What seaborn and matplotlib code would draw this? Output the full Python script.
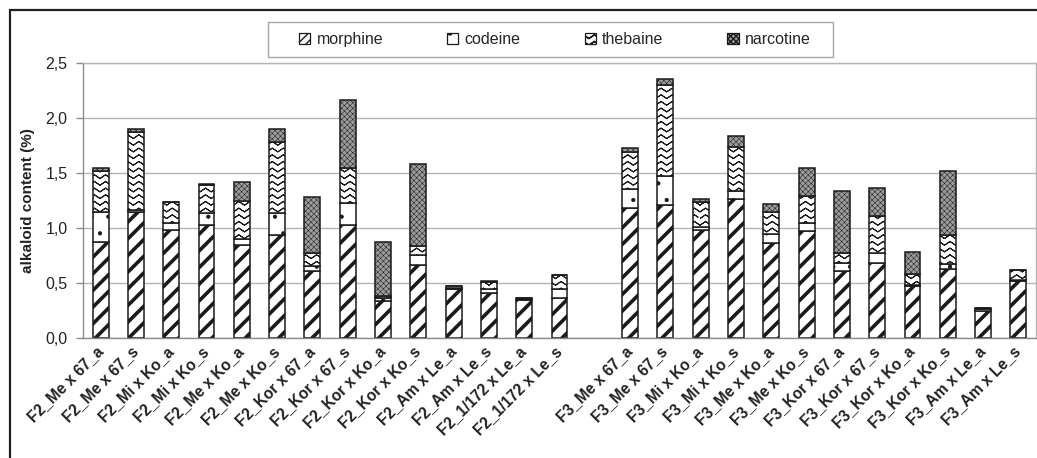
import warnings
import numpy as np
import pandas as pd
import seaborn as sns
import matplotlib.pyplot as plt
import matplotlib.hatch as mhatch
import matplotlib.patches as mpatches
import matplotlib.transforms as mtransforms
from matplotlib.path import Path

warnings.filterwarnings('ignore')

# ==========================================
# Dados
# ==========================================
amostras = ['F2_Me x 67_a', 'F2_Me x 67_s', 'F2_Mi x Ko_a', 'F2_Mi x Ko_s', 'F2_Me x Ko_a',
            'F2_Me x Ko_s', 'F2_Kor x 67_a', 'F2_Kor x 67_s', 'F2_Kor x Ko_a', 'F2_Kor x Ko_s',
            'F2_Am x Le_a', 'F2_Am x Le_s', 'F2_1/172 x Le_a', 'F2_1/172 x Le_s', '',
            'F3_Me x 67_a', 'F3_Me x 67_s', 'F3_Mi x Ko_a', 'F3_Mi x Ko_s', 'F3_Me x Ko_a',
            'F3_Me x Ko_s', 'F3_Kor x 67_a', 'F3_Kor x 67_s', 'F3_Kor x Ko_a', 'F3_Kor x Ko_s',
            'F3_Am x Le_a', 'F3_Am x Le_s']
morphine = [0.875, 1.15, 0.98, 1.025, 0.85, 0.935, 0.61, 1.025, 0.34, 0.665, 0.445, 0.41, 0.35, 0.36, 0,
            1.185, 1.205, 0.985, 1.265, 0.865, 0.975, 0.605, 0.685, 0.47, 0.625, 0.25, 0.52]
codeine = [0.27, 0.015, 0.065, 0.11, 0.05, 0.2, 0.045, 0.2, 0.025, 0.09, 0.01, 0.035, 0.005, 0.085, 0,
           0.17, 0.265, 0.025, 0.07, 0.085, 0.07, 0.08, 0.09, 0.015, 0.05, 0.015, 0.01]
thebaine = [0.37, 0.705, 0.19, 0.26, 0.345, 0.65, 0.12, 0.32, 0.02, 0.085, 0.015, 0.06, 0.005, 0.125, 0,
            0.34, 0.83, 0.225, 0.405, 0.195, 0.25, 0.09, 0.335, 0.095, 0.26, 0.01, 0.09]
narcotine = [0.03, 0.03, 0.005, 0.005, 0.175, 0.115, 0.505, 0.62, 0.49, 0.74, 0.005, 0.01, 0, 0, 0,
             0.03, 0.055, 0.025, 0.1, 0.075, 0.255, 0.56, 0.25, 0.2, 0.585, 0, 0]
componentes = ['morphine', 'codeine', 'thebaine', 'narcotine']
y_ticks = [0, 0.5, 1.0, 1.5, 2.0, 2.5]
y_ticklabels = ['0,0', '0,5', '1,0', '1,5', '2,0', '2,5']
gap_idx = amostras.index('')

df = pd.DataFrame({'amostra': amostras, 'morphine': morphine, 'codeine': codeine,
                   'thebaine': thebaine, 'narcotine': narcotine})


# hachura em zigue-zague (thebaine): ida e volta para o preenchimento ter área nula
class ZigueZague(mhatch.HatchPatternBase):
    def __init__(self, hatch, density):
        self.num_lines = int(hatch.count('~') * density * 2.5)
        self.dentes = 9
        self.n = 2 * self.dentes + 1
        self.num_vertices = self.num_lines * (2 * self.n - 1)

    def set_vertices_and_codes(self, vertices, codes):
        n = self.n
        m = 2 * n - 1
        xs = np.linspace(0, 1, n)
        amp = 0.28 / max(self.num_lines, 1)
        for i in range(self.num_lines):
            y0 = (i + 0.5) / self.num_lines
            ys = y0 + np.where(np.arange(n) % 2 == 0, -amp, amp)
            vx = np.concatenate([xs, xs[-2::-1]])
            vy = np.concatenate([ys, ys[-2::-1]])
            vertices[i * m:(i + 1) * m, 0] = vx
            vertices[i * m:(i + 1) * m, 1] = vy
            codes[i * m] = Path.MOVETO
            codes[i * m + 1:(i + 1) * m] = Path.LINETO


mhatch._hatch_types.append(ZigueZague)

estilos = {
    'morphine': dict(facecolor='white', hatch='//', hlw=2.6),
    'codeine': dict(facecolor='white', hatch='.', hlw=0.6),
    'thebaine': dict(facecolor='white', hatch='~', hlw=0.75),
    'narcotine': dict(facecolor='#9c9c9c', hatch='xxxxxx', hlw=0.35),
}

# ==========================================
# Gráfico
# ==========================================
sns.set_theme(style='white')
plt.rcParams['font.family'] = ['Liberation Sans', 'DejaVu Sans']
plt.rcParams['hatch.linewidth'] = 1.0

fig = plt.figure(figsize=(10.37, 4.58), dpi=100)
ax = fig.add_axes([83 / 1037, 1 - 338 / 458, 953 / 1037, 275 / 458])

base = np.zeros(len(amostras))
handles = []
for comp in componentes:
    est = estilos[comp]
    with plt.rc_context({'hatch.linewidth': est['hlw']}):
        sns.barplot(data=df, x='amostra', y=comp, bottom=base, width=0.45, saturation=1,
                    errorbar=None, color=est['facecolor'], facecolor=est['facecolor'],
                    edgecolor='#1a1a1a', linewidth=1.1, hatch=est['hatch'], ax=ax)
        cont = ax.containers[-1]
        for p in cont.patches:
            if hasattr(p, 'set_hatch_linewidth'):
                p.set_hatch_linewidth(est['hlw'])
        cont.patches[gap_idx].set_visible(False)
        h = mpatches.Patch(facecolor=est['facecolor'], edgecolor='#1a1a1a', linewidth=0.9,
                           hatch=est['hatch'] * (2 if comp == 'morphine' else 1), label=comp)
        if hasattr(h, 'set_hatch_linewidth'):
            h.set_hatch_linewidth(est['hlw'])
        handles.append(h)
    base = base + df[comp].to_numpy()

ax.set_xlim(-0.5, len(amostras) - 0.5)
ax.set_ylim(0, 2.5)
ax.set_yticks(y_ticks)
ax.set_yticklabels(y_ticklabels, fontsize=11.5, color='#222222')
ax.set_xticks(range(len(amostras)))
ax.set_xticklabels(amostras, rotation=45, ha='right', va='center', rotation_mode='anchor',
                   fontsize=11.2, fontweight='bold', color='#222222')
desloc = mtransforms.ScaledTranslation(-6 / 100, 0, fig.dpi_scale_trans)
for lab in ax.get_xticklabels():
    lab.set_transform(lab.get_transform() + desloc)
ax.set_xticks(np.arange(-0.5, len(amostras)), minor=True)
ax.tick_params(axis='x', which='major', length=0, pad=8)
ax.tick_params(axis='x', which='minor', length=5, width=1, color='#8c8c8c', direction='out')
ax.tick_params(axis='y', length=5, width=1, color='#8c8c8c', direction='out', pad=6, left=True)
ax.set_xlabel('')
ax.set_ylabel('alkaloid content (%)', fontsize=11, fontweight='bold', color='#222222')
ax.yaxis.set_label_coords(-0.05, 0.5)

ax.yaxis.grid(True, color='#b5b5b5', linewidth=1)
ax.set_axisbelow(True)
for lado in ['top', 'right']:
    ax.spines[lado].set_color('#b5b5b5')
for lado in ['left', 'bottom']:
    ax.spines[lado].set_color('#8c8c8c')
for s in ax.spines.values():
    s.set_linewidth(1)

# legenda com caixa própria
fig.add_artist(mpatches.Rectangle((268 / 1037, 1 - 57 / 458), 565 / 1037, 35 / 458,
                                  transform=fig.transFigure, fill=False,
                                  edgecolor='#a6a6a6', linewidth=1))
fig.legend(handles=handles, loc='center left', bbox_to_anchor=(299 / 1037, 1 - 39.5 / 458),
           bbox_transform=fig.transFigure, ncol=4, frameon=False, fontsize=11.5,
           handlelength=0.7, handleheight=0.7, handletextpad=0.4, columnspacing=4.0,
           borderpad=0, borderaxespad=0)

# moldura externa
fig.add_artist(mpatches.Rectangle((10 / 1037, -0.1), 1.2, 1.1 - 10 / 458,
                                  transform=fig.transFigure, fill=False,
                                  edgecolor='#222222', linewidth=1.6))

fig.savefig('out.png', dpi=100)
